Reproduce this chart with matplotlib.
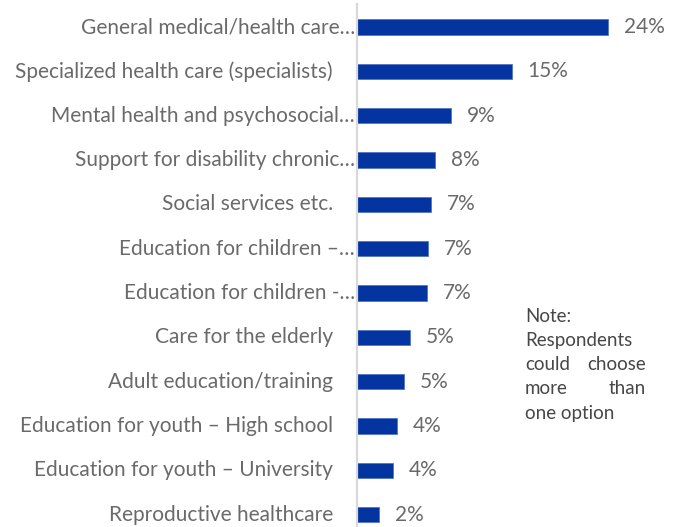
import matplotlib
matplotlib.use("Agg")
import matplotlib.pyplot as plt
from matplotlib import transforms

categories = [
    "General medical/health care…",
    "Specialized health care (specialists)",
    "Mental health and psychosocial…",
    "Support for disability chronic…",
    "Social services etc.",
    "Education for children –…",
    "Education for children -…",
    "Care for the elderly",
    "Adult education/training",
    "Education for youth – High school",
    "Education for youth – University",
    "Reproductive healthcare",
]
values = [24.4, 15.0, 9.1, 7.6, 7.2, 6.9, 6.8, 5.1, 4.52, 3.9, 3.52, 2.1]

note_lines = [["Note:"], ["Respondents"], ["could", "choose"], ["more", "than"], ["one option"]]

BAR_COLOR = "#0334a0"
TEXT_COLOR = "#6a6a6a"
NOTE_COLOR = "#474747"
FONT = ["Lato", "DejaVu Sans"]

W, H = 676, 527
fig = plt.figure(figsize=(W / 100, H / 100), dpi=100)
ax = fig.add_axes([357 / W, 0, (W - 357) / W, 523 / H])

ypos = list(range(len(categories)))
ax.barh(ypos, values, height=0.35, color=BAR_COLOR, edgecolor="#4a6cc4", linewidth=0.5)
ax.set_xlim(0, (W - 357) / 10.3)
ax.set_ylim(11.28, -0.52)

for s in ("top", "right", "bottom"):
    ax.spines[s].set_visible(False)
ax.spines["left"].set_color("#d9d9d9")
ax.spines["left"].set_linewidth(1.6)
ax.set_xticks([])
ax.set_yticks([])

base = transforms.blended_transform_factory(ax.transAxes, ax.transData)
for y, name in zip(ypos, categories):
    dx = -2 if name.endswith("…") else -24
    tr = transforms.offset_copy(base, fig=fig, x=dx, y=0, units="dots")
    ax.text(0, y, name, transform=tr, ha="right", va="center",
            fontsize=15, color=TEXT_COLOR, family=FONT)

for y, v in zip(ypos, values):
    tr = transforms.offset_copy(ax.transData, fig=fig, x=16, y=0, units="dots")
    ax.text(v, y, f"{v:.0f}%", transform=tr, ha="left", va="center",
            fontsize=15, color=TEXT_COLOR, family=FONT)

# Justified note text
left_x, right_x = 525 / W, 646 / W
for i, words in enumerate(note_lines):
    yb = 1 - (321.7 + i * 24.2) / H
    fig.text(left_x, yb, words[0], ha="left", va="baseline", fontsize=13.5,
             color=NOTE_COLOR, family=FONT)
    if len(words) > 1:
        fig.text(right_x, yb, words[1], ha="right", va="baseline", fontsize=13.5,
                 color=NOTE_COLOR, family=FONT)

fig.savefig("out.png", dpi=100)
